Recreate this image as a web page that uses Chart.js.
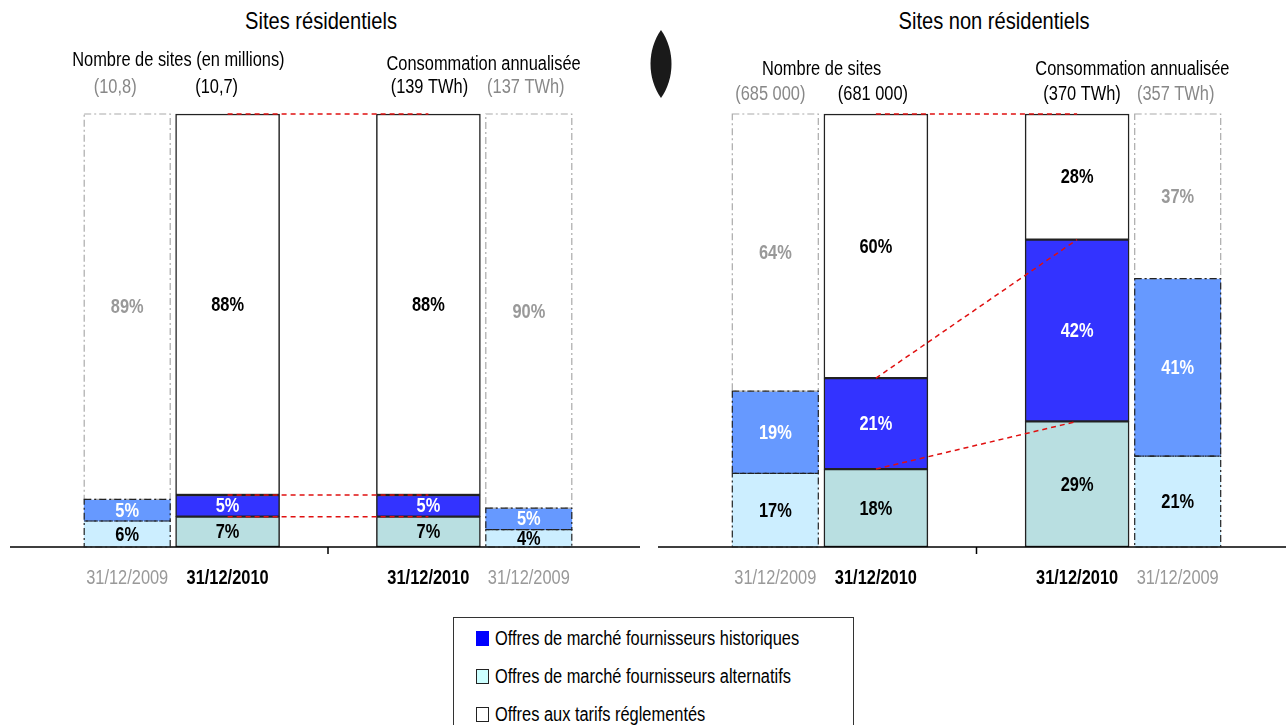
<!DOCTYPE html>
<html lang="fr">
<head>
<meta charset="utf-8">
<script src="https://cdn.jsdelivr.net/npm/chart.js@4.4.1/dist/chart.umd.min.js"></script>
<style>
  body { margin: 0; background: #fff; font-family: 'Liberation Sans', Arial, sans-serif; }
  #page { position: relative; width: 1286px; height: 725px; overflow: hidden; }
  canvas { position: absolute; top: 0; }
  .title { position: absolute; top: 7px; font-size: 24.5px; color: #000; white-space: nowrap; transform: translateX(-50%) scaleX(0.82); }
  .lens { position: absolute; left: 649px; top: 30px; }
  .legend { position: absolute; left: 453px; top: 617px; width: 399px; height: 130px; border: 1px solid #333; }
  .legend div { position: absolute; left: 22px; height: 22px; white-space: nowrap; }
  .legend span { position: absolute; left: 0; top: 4px; width: 13px; height: 15px; border: 1px solid #222; box-sizing: border-box; }
  .legend b { position: absolute; left: 19px; top: 0; font-weight: normal; font-size: 20px; line-height: 22px; transform: scaleX(0.82); transform-origin: 0 0; }
</style>
</head>
<body>
<div id="page">
  <div class="title" style="left:321px">Sites résidentiels</div>
  <div class="title" style="left:994px">Sites non résidentiels</div>
  <svg class="lens" width="24" height="70"><path d="M12 0 C26 20 26 48 12 68 C-2 48 -2 20 12 0 Z" fill="#1a1a1a"/></svg>
  <canvas id="res" width="648" height="600" style="left:0"></canvas>
  <canvas id="nonres" width="638" height="600" style="left:648px"></canvas>
  <div class="legend" id="legend"></div>
</div>
<script>
// axis slots: two "nombre" bars, empty middle, two "consommation" bars
const categories = ['31/12/2009', '31/12/2010', '', '31/12/2010', '31/12/2009'];
const barSlots = [0, 1, 3, 4];
const barYears = ['2009', '2010', '2010', '2009'];

// Sites résidentiels (%)
const resAlt = [6, 7, 7, 4];
const resHist = [5, 5, 5, 5];
const resReg = [89, 88, 88, 90];
const resTotals = ['(10,8)', '(10,7)', '(139 TWh)', '(137 TWh)'];
const resGroups = ['Nombre de sites (en millions)', 'Consommation annualisée'];

// Sites non résidentiels (%)
const nonResAlt = [17, 18, 29, 21];
const nonResHist = [19, 21, 42, 41];
const nonResReg = [64, 60, 28, 37];
const nonResTotals = ['(685 000)', '(681 000)', '(370 TWh)', '(357 TWh)'];
const nonResGroups = ['Nombre de sites', 'Consommation annualisée'];

const seriesNames = [
  'Offres de marché fournisseurs historiques',
  'Offres de marché fournisseurs alternatifs',
  'Offres aux tarifs réglementés'
];

const FONT = "'Liberation Sans', Arial, sans-serif";
const SQUEEZE = 0.82; // reference uses a narrow face

const yearStyle = {
  '2009': { alt: '#CCEEFF', hist: '#6699FF', reg: '#FFFFFF', thick: 86, bw: 0,
            txt: { alt: '#000', hist: '#fff', reg: '#999' }, dash: { alt: '#222', hist: '#222', reg: '#aaa' }, totals: '#888' },
  '2010': { alt: '#B9DFE1', hist: '#3333FF', reg: '#FFFFFF', thick: 104, bw: 1.5,
            txt: { alt: '#000', hist: '#fff', reg: '#000' }, dash: null, totals: '#000' }
};

function spread(year, fn) {
  const out = [null, null, null, null, null];
  barYears.forEach((y, i) => { if (y === year) out[barSlots[i]] = fn(i); });
  return out;
}

function buildDatasets(alt, hist, reg) {
  const sets = [];
  ['2009', '2010'].forEach(year => {
    const st = yearStyle[year];
    const parts = {
      alt: { range: i => [0, alt[i]], text: i => alt[i] + '%' },
      hist: { range: i => [alt[i], alt[i] + hist[i]], text: i => hist[i] + '%' },
      reg: { range: i => [alt[i] + hist[i], 100], text: i => reg[i] + '%' }
    };
    ['reg', 'hist', 'alt'].forEach(key => {
      sets.push({
        label: key + year,
        data: spread(year, parts[key].range),
        labelText: spread(year, parts[key].text),
        labelColor: st.txt[key],
        dashColor: st.dash ? st.dash[key] : null,
        part: key,
        year: year,
        backgroundColor: st[key],
        borderColor: '#222',
        borderWidth: st.bw,
        borderSkipped: false,
        barThickness: st.thick,
        grouped: false,
        clip: false
      });
    });
  });
  return sets;
}

function narrowText(ctx, text, x, y, font, color) {
  ctx.save();
  ctx.font = font;
  ctx.fillStyle = color;
  ctx.textAlign = 'center';
  ctx.textBaseline = 'middle';
  ctx.translate(x, y);
  ctx.scale(SQUEEZE, 1);
  ctx.fillText(text, 0, 0);
  ctx.restore();
}

const panelDeco = {
  id: 'panelDeco',
  afterDatasetsDraw(chart, args, opts) {
    const ctx = chart.ctx;
    const xs = chart.scales.x;
    const y0 = chart.scales.y.getPixelForValue(0);
    ctx.save();
    // baseline and middle tick
    ctx.strokeStyle = '#000';
    ctx.lineWidth = 1.5;
    ctx.beginPath();
    ctx.moveTo(opts.lineFrom, y0);
    ctx.lineTo(opts.lineTo, y0);
    const xm = xs.getPixelForValue(2);
    ctx.moveTo(xm, y0);
    ctx.lineTo(xm, y0 + 7);
    ctx.stroke();

    // category labels under the axis (narrow face)
    xs.ticks.forEach((t, i) => {
      const lab = xs.getLabelForValue(t.value);
      if (!lab) return;
      const is2010 = lab === '31/12/2010';
      narrowText(ctx, lab, xs.getPixelForTick(i), y0 + 31,
        (is2010 ? 'bold ' : '') + '20px ' + FONT, is2010 ? '#000' : '#999');
    });

    // dash-dot borders of 2009 bars
    chart.data.datasets.forEach((ds, di) => {
      if (!ds.dashColor) return;
      chart.getDatasetMeta(di).data.forEach((el, i) => {
        if (ds.data[i] == null) return;
        ctx.strokeStyle = ds.dashColor;
        ctx.lineWidth = 1.2;
        ctx.setLineDash([7, 3, 2, 3]);
        ctx.strokeRect(el.x - el.width / 2, el.y, el.width, el.base - el.y);
      });
    });
    ctx.setLineDash([]);

    // value labels
    chart.data.datasets.forEach((ds, di) => {
      chart.getDatasetMeta(di).data.forEach((el, i) => {
        if (ds.data[i] == null) return;
        narrowText(ctx, ds.labelText[i], el.x, (el.y + el.base) / 2 + 1, 'bold 20px ' + FONT, ds.labelColor);
      });
    });

    // red dashed connectors between the two 2010 bars
    ctx.strokeStyle = '#E01010';
    ctx.lineWidth = 1.5;
    ctx.setLineDash([5, 4]);
    chart.data.datasets.forEach((ds, di) => {
      if (ds.year !== '2010') return;
      const els = chart.getDatasetMeta(di).data;
      const a = els[1], b = els[3];
      ctx.beginPath();
      ctx.moveTo(a.x, a.y);
      ctx.lineTo(b.x, b.y);
      ctx.stroke();
    });
    ctx.setLineDash([]);

    // group headers and totals
    const xAt = s => xs.getPixelForValue(s);
    narrowText(ctx, opts.groups[0], (xAt(0) + xAt(1)) / 2 + opts.groupDx[0], opts.groupY[0], '20px ' + FONT, '#000');
    narrowText(ctx, opts.groups[1], (xAt(3) + xAt(4)) / 2 + opts.groupDx[1], opts.groupY[1], '20px ' + FONT, '#000');
    barSlots.forEach((s, i) => {
      narrowText(ctx, opts.totals[i], xAt(s) + opts.totalsDx[i], opts.totalsY, '20px ' + FONT, yearStyle[barYears[i]].totals);
    });
    ctx.restore();
  }
};

function makePanel(id, alt, hist, reg, totals, groups, deco, padRight) {
  return new Chart(document.getElementById(id), {
    type: 'bar',
    data: { labels: categories, datasets: buildDatasets(alt, hist, reg) },
    options: {
      responsive: false,
      animation: false,
      events: [],
      layout: { padding: { top: 114, left: 77, right: padRight, bottom: 0 } },
      scales: {
        x: {
          type: 'category',
          offset: true,
          grid: { display: false },
          border: { display: false },
          afterFit: s => { s.height = 53; },
          ticks: { display: false, autoSkip: false }
        },
        y: { display: false, min: 0, max: 100 }
      },
      plugins: {
        legend: { display: false },
        tooltip: { enabled: false },
        panelDeco: Object.assign({ totals: totals, groups: groups }, deco)
      }
    },
    plugins: [panelDeco]
  });
}

makePanel('res', resAlt, resHist, resReg, resTotals, resGroups,
  { lineFrom: 10, lineTo: 640, groupY: [60, 64], groupDx: [1, 5], totalsY: 87, totalsDx: [-12, -11, 1, -3] }, 69);
makePanel('nonres', nonResAlt, nonResHist, nonResReg, nonResTotals, nonResGroups,
  { lineFrom: 10, lineTo: 638, groupY: [69, 69], groupDx: [-4, 5], totalsY: 94, totalsDx: [-5, -3, 5, -2] }, 58);

// shared legend
const legendColors = ['#0000FF', '#CCFFFF', '#FFFFFF'];
const legendRows = [9, 47, 85];
document.getElementById('legend').innerHTML = seriesNames.map((name, i) =>
  '<div style="top:' + legendRows[i] + 'px"><span style="background:' + legendColors[i] +
  (i === 0 ? ';border-color:#0000FF' : '') + '"></span><b>' + name + '</b></div>').join('');
</script>
</body>
</html>
